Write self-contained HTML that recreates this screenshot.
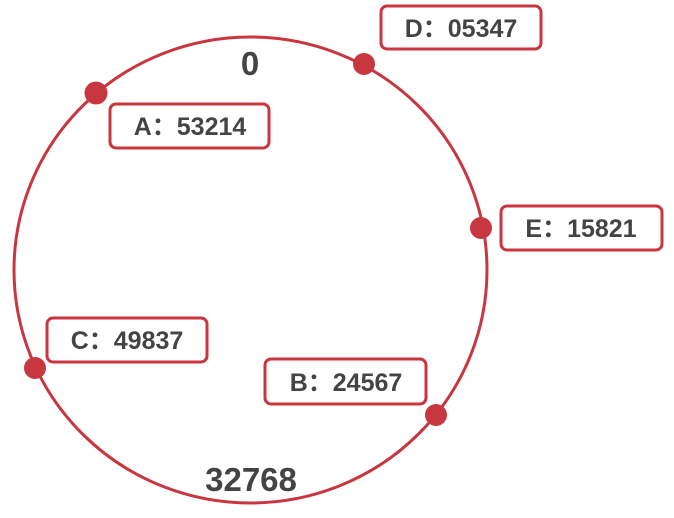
<!DOCTYPE html>
<html><head><meta charset="utf-8"><style>
html,body{margin:0;padding:0;background:#fff;}
svg{display:block;}
text{font-family:"Liberation Sans","Noto Sans CJK SC",sans-serif;font-weight:bold;fill:#444;}
</style></head><body>
<svg width="674" height="518" viewBox="0 0 674 518" xmlns="http://www.w3.org/2000/svg">
<ellipse cx="250.5" cy="270" rx="236.5" ry="233" fill="none" stroke="#c8363f" stroke-width="3"/>
<g fill="#fff" stroke="#c8363f" stroke-width="3">
<rect x="381" y="6" width="160" height="43" rx="6"/>
<rect x="110" y="104" width="159" height="44" rx="6"/>
<rect x="501" y="206" width="161" height="44" rx="6"/>
<rect x="47" y="318" width="160" height="44" rx="6"/>
<rect x="265" y="359" width="161" height="45" rx="6"/>
</g>
<g fill="#c8363f">
<circle cx="364" cy="64" r="11"/>
<circle cx="96" cy="93" r="11.5"/>
<circle cx="481" cy="228" r="11"/>
<circle cx="35" cy="368" r="11"/>
<circle cx="436" cy="415" r="11"/>
</g>
<g font-size="25" text-anchor="middle">
<text x="461" y="37">D：05347</text>
<text x="190" y="135">A：53214</text>
<text x="581" y="237">E：15821</text>
<text x="127" y="349">C：49837</text>
<text x="346" y="391">B：24567</text>
</g>
<text x="250" y="75" font-size="33" text-anchor="middle">0</text>
<text x="251" y="491" font-size="33" text-anchor="middle">32768</text>
</svg>
</body></html>
